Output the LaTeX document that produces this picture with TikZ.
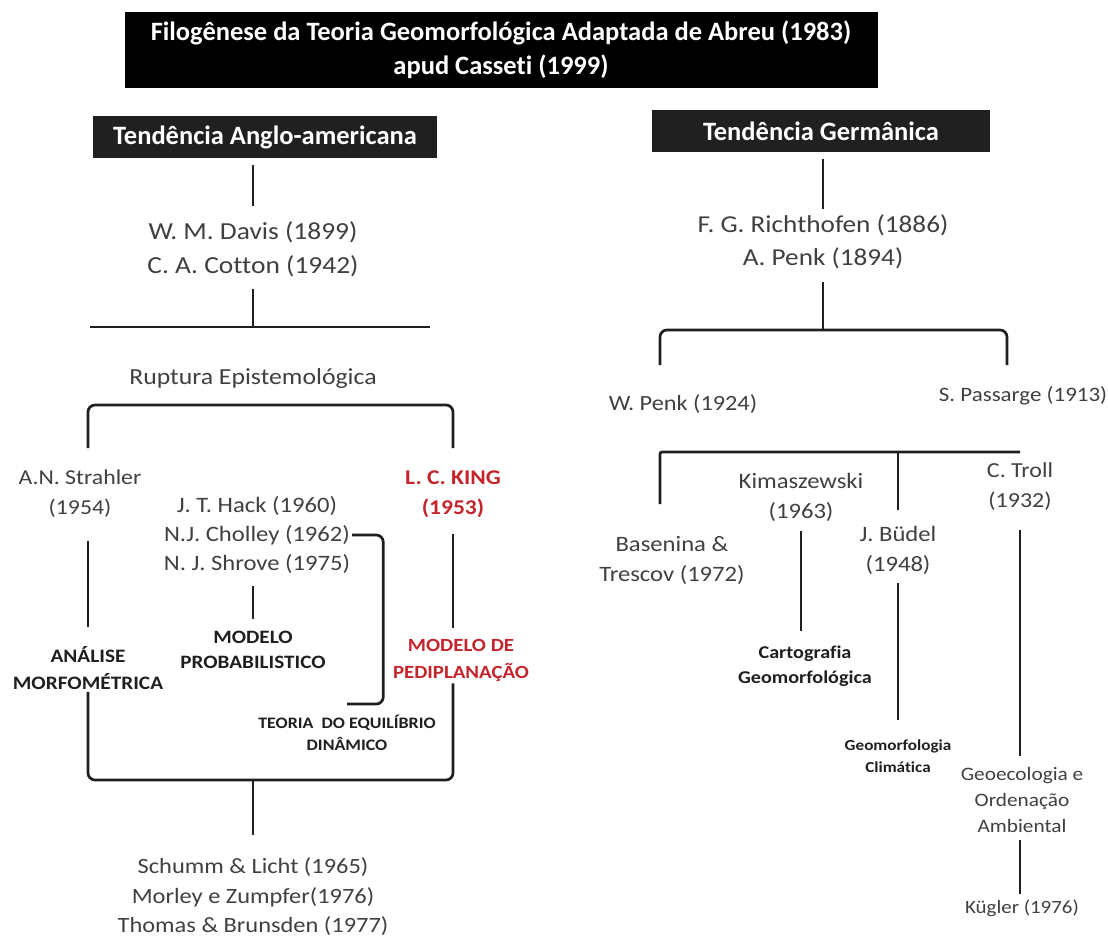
\documentclass[tikz,border=0pt]{standalone}
\usepackage{fontspec}
\setmainfont{Carlito}[Ligatures=NoCommon]
\newfontfamily\wdfont{Carlito}[FakeStretch=1.12,Ligatures=NoCommon]
\usetikzlibrary{positioning}
\definecolor{hdgray}{HTML}{202020}
\definecolor{txtgray}{HTML}{404040}
\definecolor{kingred}{HTML}{C4252C}
\begin{document}
\begin{tikzpicture}[x=1pt,y=-1pt,
  ttl/.style={fill=black,text=white,font=\fontsize{26.5}{34}\selectfont\bfseries,align=center,minimum width=753pt,minimum height=76pt,inner sep=0pt},
  hdr/.style={fill=hdgray,text=white,font=\fontsize{26.5}{28}\selectfont\bfseries,minimum height=42pt,inner sep=0pt},
  nm/.style={text=txtgray,font=\wdfont\fontsize{24.5}{34}\selectfont,align=center,inner sep=2pt},
  sm/.style={text=txtgray,font=\wdfont\fontsize{22}{30}\selectfont,align=center,inner sep=2pt},
  lbl/.style={text=black!88,font=\wdfont\fontsize{19}{27}\selectfont\bfseries,align=center,inner sep=2pt},
  kinglbl/.style={lbl,text=kingred},
  ln/.style={line width=2.7pt,black!88},
  brk/.style={ln,rounded corners=7pt}
]
\useasboundingbox (0,0) rectangle (1108,938);
% titles
\node[ttl] (title) at (501,50) {Filogênese da Teoria Geomorfológica Adaptada de Abreu (1983)\\apud Casseti (1999)};
\node[hdr,minimum width=344pt] (hdL) at (265,137) {Tendência Anglo-americana};
\node[hdr,minimum width=338pt] (hdR) at (821,131) {Tendência Germânica};

% anglo-american branch
\node[nm] (davis) at (253,249) {W. M. Davis (1899)\\C. A. Cotton (1942)};
\node[nm,font=\wdfont\fontsize{23}{30}\selectfont] (rupt) at (253,378) {Ruptura Epistemológica};
\node[sm,font=\wdfont\fontsize{21.2}{30}\selectfont] (strahler) at (80,494) {A.N. Strahler\\(1954)};
\node[sm,font=\wdfont\fontsize{22}{29}\selectfont] (hack) at (257,535) {J. T. Hack (1960)\\N.J. Cholley (1962)\\N. J. Shrove (1975)};
\node[kinglbl,font=\wdfont\fontsize{21}{30}\selectfont\bfseries] (king) at (453,494) {L. C. KING\\(1953)};
\node[lbl] (analise) at (88,668) {ANÁLISE\\MORFOMÉTRICA};
\node[lbl,font=\wdfont\fontsize{18.9}{25}\selectfont\bfseries] (probab) at (253,650) {MODELO\\PROBABILISTICO};
\node[kinglbl,font=\wdfont\fontsize{18.6}{27}\selectfont\bfseries] (pedi) at (461,660) {MODELO DE\\PEDIPLANAÇÃO};
\node[lbl,font=\wdfont\fontsize{16}{22}\selectfont\bfseries] (teoria) at (347,733) {TEORIA~~DO EQUILÍBRIO\\DINÂMICO};
\node[nm,font=\wdfont\fontsize{21.8}{29.5}\selectfont] (schumm) at (253,897) {Schumm \& Licht (1965)\\Morley e Zumpfer(1976)\\Thomas \& Brunsden (1977)};

\coordinate (hlL) at (90,327);
\coordinate (hlR) at (430,327);
\coordinate (rL) at (88,448);
\coordinate (rR) at (453,448);
\coordinate (bot) at (253,780);

\draw[ln,shorten <=7pt,shorten >=13pt] (davis.north |- hdL.south) -- (davis.north);
\draw[ln,shorten <=10pt] (davis.south) -- (davis.south |- hlL);
\draw[ln] (hlL) -- (hlR);
\draw[brk] (rL) -- ++(0,-43) -| (rR);
\draw[ln,shorten <=21pt,shorten >=17pt] (strahler.south -| analise) -- (analise.north);
\draw[ln,shorten <=14pt,shorten >=9pt] (king.south -| rR) -- (pedi.north -| rR);
\draw[ln,shorten <=10pt,shorten >=10pt] (hack.south -| probab) -- (probab.north);
\draw[brk] (hack.east) -- ++(31,0) |- ([yshift=9pt]teoria.north);
\draw[brk] (analise.south) |- (bot) -| (pedi.south -| rR);
\draw[ln,shorten >=21pt] (bot) -- (schumm.north);

% germanic branch
\node[nm,font=\wdfont\fontsize{24.3}{33}\selectfont] (rich) at (823,242) {F. G. Richthofen (1886)\\A. Penk (1894)};
\node[sm,font=\wdfont\fontsize{21.7}{30}\selectfont] (wpenk) at (683,404) {W. Penk (1924)};
\node[sm,font=\wdfont\fontsize{20.5}{30}\selectfont] (passarge) at (1023,396) {S. Passarge (1913)};
\node[sm] (basen) at (672,560) {Basenina \&\\Trescov (1972)};
\node[sm] (kimas) at (801,497) {Kimaszewski\\(1963)};
\node[sm] (budel) at (898,550) {J. Büdel\\(1948)};
\node[sm,font=\wdfont\fontsize{21.4}{30}\selectfont] (troll) at (1020,487) {C. Troll\\(1932)};
\node[lbl,font=\wdfont\fontsize{18}{25}\selectfont\bfseries] (carto) at (805,666) {Cartografia\\Geomorfológica};
\node[lbl,font=\wdfont\fontsize{15.3}{22}\selectfont\bfseries] (clima) at (898,756) {Geomorfologia\\Climática};
\node[sm,font=\wdfont\fontsize{19}{26}\selectfont] (geoeco) at (1022,800) {Geoecologia e\\Ordenação\\Ambiental};
\node[sm,font=\wdfont\fontsize{18.7}{26}\selectfont] (kugler) at (1022,908) {Kügler (1976)};

\coordinate (bt2) at (823,330);
\coordinate (pL) at (660,365);
\coordinate (pR) at (1007,365);
\coordinate (h2L) at (660,504);
\coordinate (h2R) at (1020,452);

\draw[ln,shorten <=7pt,shorten >=4pt] (rich.north |- hdR.south) -- (rich.north);
\draw[ln,shorten <=11pt] (rich.south) -- (bt2);
\draw[brk] (pL) |- (bt2) -| (pR);
\draw[ln,rounded corners=2pt] (h2L) |- (h2R);
\draw[ln,shorten >=14pt] (budel.north |- h2R) -- (budel.north);
\draw[ln,shorten <=8pt,shorten >=12pt] (kimas.south) -- (kimas.south |- carto.north);
\draw[ln,shorten <=7pt,shorten >=17pt] (budel.south) -- (clima.north);
\draw[ln,shorten <=17pt,shorten >=9pt] (troll.south) -- (troll.south |- geoeco.north);
\draw[ln,shorten <=5pt,shorten >=3pt] (geoeco.south -| troll) -- (kugler.north -| troll);
\end{tikzpicture}
\end{document}
